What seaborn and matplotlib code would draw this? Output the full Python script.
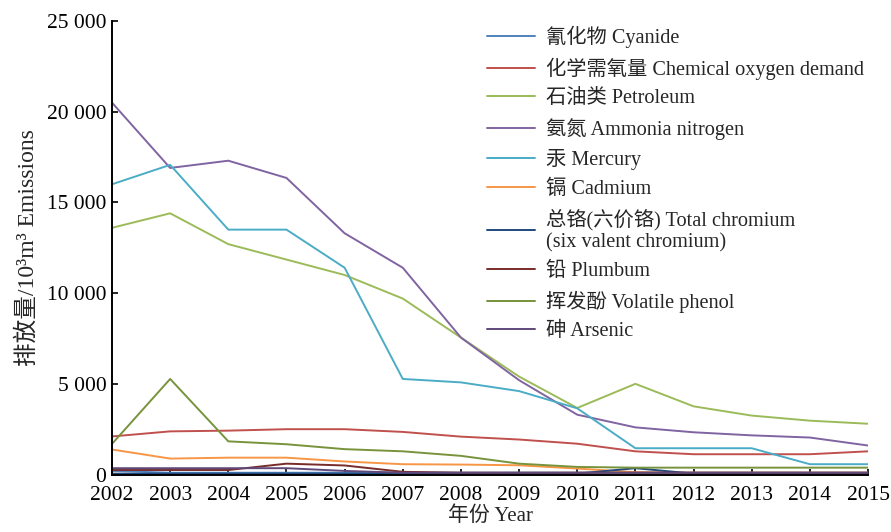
import matplotlib
matplotlib.use("Agg")
import matplotlib.pyplot as plt
import matplotlib.ticker as mticker
import pandas as pd
import seaborn as sns

years = list(range(2002, 2016))

cyanide = [200, 100, 100, 100, 100, 100, 100, 100, 100, 100, 100, 100, 100, 100]
cod = [2100, 2380, 2420, 2500, 2500, 2350, 2090, 1930, 1700, 1280, 1120, 1120, 1120, 1280]
petroleum = [13600, 14400, 12700, 11850, 11000, 9700, 7550, 5400, 3670, 5000, 3760, 3250, 2970, 2800]
ammonia = [20500, 16900, 17300, 16350, 13300, 11400, 7550, 5200, 3300, 2600, 2330, 2160, 2040, 1600]
mercury = [16000, 17070, 13500, 13500, 11400, 5270, 5080, 4600, 3650, 1450, 1450, 1450, 570, 570]
cadmium = [1380, 880, 930, 930, 720, 570, 550, 510, 330, 130, 100, 100, 100, 100]
chromium = [50, 50, 50, 50, 50, 50, 50, 50, 50, 350, 50, 50, 50, 50]
plumbum = [250, 250, 250, 600, 500, 150, 100, 100, 100, 100, 100, 100, 100, 100]
phenol = [1690, 5270, 1830, 1670, 1400, 1280, 1030, 600, 420, 380, 380, 380, 380, 380]
arsenic = [350, 350, 350, 350, 200, 100, 100, 100, 100, 100, 100, 100, 100, 100]

labels = [
    "氰化物 Cyanide",
    "化学需氧量 Chemical oxygen demand",
    "石油类 Petroleum",
    "氨氮 Ammonia nitrogen",
    "汞 Mercury",
    "镉 Cadmium",
    "总铬(六价铬) Total chromium\n(six valent chromium)",
    "铅 Plumbum",
    "挥发酚 Volatile phenol",
    "砷 Arsenic",
]
colors = ["#4F81BD", "#C0504D", "#9BBB59", "#8064A2", "#4BACC6",
          "#F79646", "#1F497D", "#772C2A", "#77933C", "#5F497A"]
series = [cyanide, cod, petroleum, ammonia, mercury,
          cadmium, chromium, plumbum, phenol, arsenic]

rows = []
for label, values in zip(labels, series):
    for year, value in zip(years, values):
        rows.append({"year": year, "value": value, "series": label})
df = pd.DataFrame(rows)

sns.set_style("ticks")
plt.rcParams["font.family"] = ["Liberation Serif", "Noto Sans CJK SC"]

fig = plt.figure(figsize=(8.91, 5.32), dpi=100)
ax = fig.add_axes([0.1257, 0.108, 0.8485, 0.8525])

sns.lineplot(
    data=df,
    x="year",
    y="value",
    hue="series",
    hue_order=labels,
    palette=colors,
    linewidth=1.4,
    ax=ax,
)

ax.set_xlim(2002, 2015)
ax.set_ylim(0, 25000)
ax.set_xticks(years)
ax.set_xticklabels([str(y) for y in years])
ax.set_yticks(range(0, 25001, 5000))
ax.yaxis.set_major_formatter(
    mticker.FuncFormatter(lambda v, p: f"{int(v):,}".replace(",", " "))
)
ax.tick_params(axis="both", direction="in", length=4, width=1.2,
               labelsize=15.5, colors="black")
ax.tick_params(axis="x", pad=8)
ax.tick_params(axis="y", pad=4)

for side in ["top", "right"]:
    ax.spines[side].set_visible(False)
for side in ["left", "bottom"]:
    ax.spines[side].set_color("black")
    ax.spines[side].set_linewidth(1.4)

ax.set_xlabel("年份 Year", fontsize=15, labelpad=1)
ax.set_ylabel("排放量/10³m³ Emissions", fontsize=17, labelpad=6)

leg = ax.legend(
    loc="upper left",
    bbox_to_anchor=(0.496, 0.99),
    borderaxespad=0,
    borderpad=0,
    frameon=False,
    fontsize=14.6,
    handlelength=2.35,
    handletextpad=0.55,
    labelspacing=0.47,
)
for line in leg.get_lines():
    line.set_linewidth(1.4)

fig.savefig("out.png", dpi=100)
